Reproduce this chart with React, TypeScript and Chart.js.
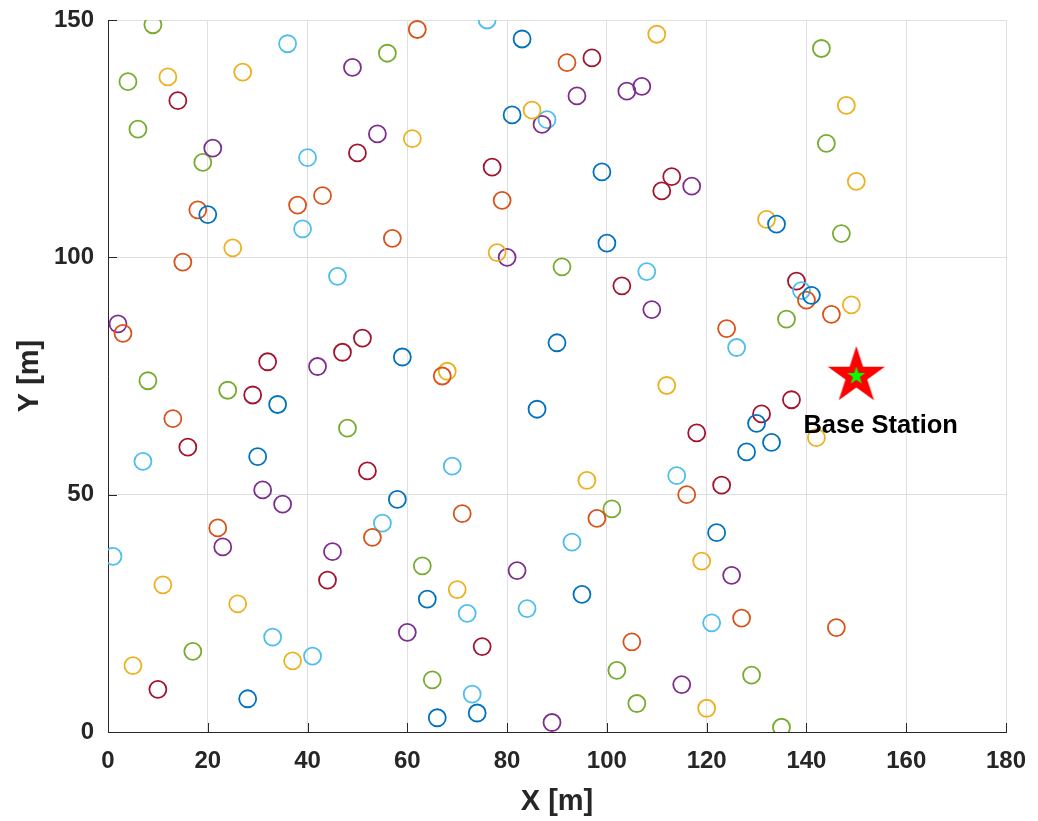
import { useEffect, useRef } from "react";
import { Chart, registerables } from "chart.js";

Chart.register(...registerables);

// Sensor node positions [x, y] in metres, grouped by MATLAB colour order
const blueNodes: number[][] = [
  [20, 109], [83, 146], [81, 130], [99, 118], [100, 103], [59, 79], [34, 69], [30, 58],
  [58, 49], [90, 82], [86, 68], [134, 107], [141, 92], [130, 65], [133, 61], [128, 59],
  [28, 7], [122, 42], [64, 28], [95, 29], [66, 3], [74, 4],
];
const orangeNodes: number[][] = [
  [62, 148], [43, 113], [38, 111], [18, 110], [57, 104], [15, 99], [92, 141], [79, 112],
  [3, 84], [13, 66], [67, 75], [116, 50], [140, 91], [145, 88], [124, 85], [22, 43],
  [53, 41], [71, 46], [98, 45], [105, 19], [127, 24], [146, 22],
];
const yellowNodes: number[][] = [
  [27, 139], [12, 138], [25, 102], [110, 147], [85, 131], [61, 125], [78, 101], [148, 132],
  [150, 116], [132, 108], [68, 76], [112, 73], [96, 53], [149, 90], [142, 62], [11, 31],
  [26, 27], [37, 15], [5, 14], [119, 36], [70, 30], [120, 5],
];
const purpleNodes: number[][] = [
  [49, 140], [54, 126], [21, 123], [94, 134], [104, 135], [107, 136], [87, 128], [117, 115],
  [80, 100], [2, 86], [42, 77], [31, 51], [35, 48], [109, 89], [23, 39], [45, 38],
  [60, 21], [82, 34], [115, 10], [89, 2], [125, 33],
];
const greenNodes: number[][] = [
  [9, 149], [56, 143], [4, 137], [6, 127], [19, 120], [143, 144], [144, 124], [147, 105],
  [91, 98], [8, 74], [24, 72], [48, 64], [136, 87], [17, 17], [101, 47], [63, 35],
  [65, 11], [102, 13], [106, 6], [129, 12], [135, 1],
];
const cyanNodes: number[][] = [
  [36, 145], [40, 121], [39, 106], [76, 150], [88, 129], [46, 96], [108, 97], [7, 57],
  [69, 56], [114, 54], [139, 93], [126, 81], [1, 37], [55, 44], [33, 20], [41, 16],
  [93, 40], [72, 25], [84, 26], [121, 23], [73, 8],
];
const darkRedNodes: number[][] = [
  [14, 133], [50, 122], [97, 142], [77, 119], [113, 117], [111, 114], [51, 83], [47, 80],
  [32, 78], [29, 71], [16, 60], [52, 55], [103, 94], [118, 63], [138, 95], [137, 70],
  [131, 67], [123, 52], [44, 32], [10, 9], [75, 18],
];

const baseStation: number[][] = [[150, 75]];
const baseStationLabel = "Base Station";
const baseStationLabelPos: number[] = [140, 65];

const xTicks: number[] = [0, 20, 40, 60, 80, 100, 120, 140, 160, 180];
const yTicks: number[] = [0, 50, 100, 150];

const seriesColors: string[] = ["#0072BD", "#D95319", "#EDB120", "#7E2F8E", "#77AC30", "#4DBEEE", "#A2142F"];
const seriesNodes: number[][][] = [blueNodes, orangeNodes, yellowNodes, purpleNodes, greenNodes, cyanNodes, darkRedNodes];

const FONT = "'Liberation Sans', Arial, Helvetica, sans-serif";
const AXIS_COLOR = "#262626";

function drawStar(ctx: CanvasRenderingContext2D, cx: number, cy: number, R: number, r: number, color: string) {
  ctx.beginPath();
  for (let i = 0; i < 10; i++) {
    const rad = i % 2 === 0 ? R : r;
    const a = -Math.PI / 2 + (i * Math.PI) / 5;
    const px = cx + rad * Math.cos(a);
    const py = cy + rad * Math.sin(a);
    if (i === 0) ctx.moveTo(px, py);
    else ctx.lineTo(px, py);
  }
  ctx.closePath();
  ctx.fillStyle = color;
  ctx.fill();
}

function makeStarImage(): HTMLCanvasElement {
  const c = document.createElement("canvas");
  c.width = 66;
  c.height = 66;
  const ctx = c.getContext("2d")!;
  drawStar(ctx, 33, 33, 30, 30 * 0.382, "#FF0000");
  drawStar(ctx, 33, 33, 9.5, 9.5 * 0.382, "#00FF00");
  return c;
}

const inwardTicks = {
  id: "inwardTicks",
  afterDraw(chart: any) {
    const { ctx, chartArea, scales } = chart;
    const len = 9;
    ctx.save();
    ctx.strokeStyle = AXIS_COLOR;
    ctx.lineWidth = 1;
    ctx.beginPath();
    for (const v of xTicks) {
      const px = Math.round(scales.x.getPixelForValue(v)) + 0.5;
      ctx.moveTo(px, chartArea.bottom);
      ctx.lineTo(px, chartArea.bottom - len);
    }
    for (const v of yTicks) {
      const py = Math.round(scales.y.getPixelForValue(v)) + 0.5;
      ctx.moveTo(chartArea.left, py);
      ctx.lineTo(chartArea.left + len, py);
    }
    ctx.stroke();
    ctx.restore();
  },
};

const stationLabel = {
  id: "stationLabel",
  afterDatasetsDraw(chart: any) {
    const { ctx, scales } = chart;
    const px = scales.x.getPixelForValue(baseStationLabelPos[0]);
    const py = scales.y.getPixelForValue(baseStationLabelPos[1]);
    ctx.save();
    ctx.font = `bold 25.5px ${FONT}`;
    ctx.fillStyle = "#000000";
    ctx.textAlign = "left";
    ctx.textBaseline = "middle";
    ctx.fillText(baseStationLabel, px - 3, py + 3);
    ctx.restore();
  },
};

function zeroPadding(scale: any) {
  scale.paddingTop = 0;
  scale.paddingBottom = 0;
  scale.paddingLeft = 0;
  scale.paddingRight = 0;
}

export default function App() {
  const canvasRef = useRef<HTMLCanvasElement | null>(null);

  useEffect(() => {
    if (!canvasRef.current) return;
    const starImg = makeStarImage();

    const nodeDatasets = seriesNodes.map((nodes, i) => ({
      label: `nodes${i}`,
      data: nodes.map(([x, y]) => ({ x, y })),
      pointStyle: "circle" as const,
      pointRadius: 8.5,
      pointHoverRadius: 8.5,
      borderColor: seriesColors[i],
      backgroundColor: "rgba(0,0,0,0)",
      borderWidth: 1.8,
      showLine: false,
    }));

    const chart = new Chart(canvasRef.current, {
      type: "scatter",
      data: {
        datasets: [
          {
            label: "Base Station",
            data: baseStation.map(([x, y]) => ({ x, y })),
            pointStyle: starImg as any,
            pointRadius: 30,
            borderWidth: 0,
            showLine: false,
          },
          ...nodeDatasets,
        ],
      },
      options: {
        animation: false,
        responsive: false,
        maintainAspectRatio: false,
        events: [],
        layout: { autoPadding: false, padding: { left: 0, top: 20, right: 32, bottom: 0 } },
        plugins: { legend: { display: false }, tooltip: { enabled: false } },
        scales: {
          x: {
            type: "linear",
            min: 0,
            max: 180,
            afterFit: (scale: any) => {
              scale.height = 89;
              zeroPadding(scale);
            },
            afterBuildTicks: (scale: any) => {
              scale.ticks = xTicks.map((v) => ({ value: v }));
            },
            ticks: {
              color: AXIS_COLOR,
              font: { family: FONT, size: 24, weight: "bold" },
              padding: 15,
              maxRotation: 0,
            },
            grid: { color: "#dfdfdf", lineWidth: 1, drawTicks: false },
            border: { display: true, color: AXIS_COLOR, width: 1 },
            title: {
              display: true,
              text: "X [m]",
              color: AXIS_COLOR,
              font: { family: FONT, size: 29, weight: "bold" },
              padding: { top: 0, bottom: 2 },
            },
          },
          y: {
            type: "linear",
            min: 0,
            max: 150,
            afterFit: (scale: any) => {
              scale.width = 108;
              zeroPadding(scale);
            },
            afterBuildTicks: (scale: any) => {
              scale.ticks = yTicks.map((v) => ({ value: v }));
            },
            ticks: {
              color: AXIS_COLOR,
              font: { family: FONT, size: 24, weight: "bold" },
              padding: 14,
            },
            grid: { color: "#dfdfdf", lineWidth: 1, drawTicks: false },
            border: { display: true, color: AXIS_COLOR, width: 1 },
            title: {
              display: true,
              text: "Y [m]",
              color: AXIS_COLOR,
              font: { family: FONT, size: 29, weight: "bold" },
              padding: { top: 13, bottom: 0 },
            },
          },
        },
      },
      plugins: [inwardTicks, stationLabel],
    });

    return () => {
      chart.destroy();
    };
  }, []);

  return (
    <div style={{ position: "fixed", left: 0, top: 0, width: 1038, height: 821, background: "#ffffff" }}>
      <canvas ref={canvasRef} width={1038} height={821} />
    </div>
  );
}
